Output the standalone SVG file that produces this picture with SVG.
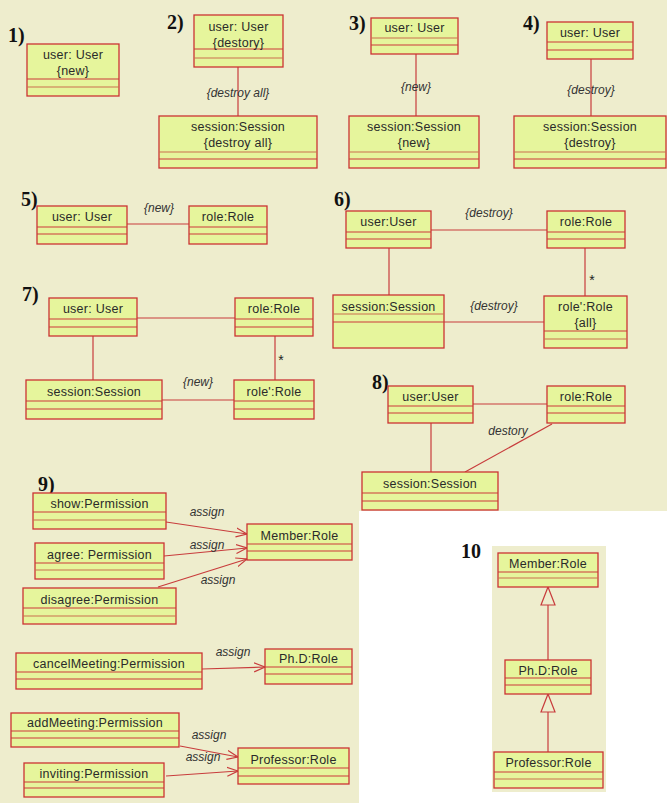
<svg xmlns="http://www.w3.org/2000/svg" width="667" height="803" viewBox="0 0 667 803">
<style>
.bg{fill:#EEEDCD}
.node rect{fill:#E6F59C;stroke:#CC3333;stroke-width:1.3}
.node line{stroke:#CC3B3B;stroke-width:1.2}
.node line.s2{stroke:#C9704E}
.node text{font-family:"Liberation Sans",Arial,sans-serif;font-size:12.5px;letter-spacing:0.25px;fill:#2a2a2a;text-anchor:middle}
.conn line,.conn path{stroke:#C83C3C;stroke-width:1.2;fill:none}
.lbl{font-family:"Liberation Sans",Arial,sans-serif;font-size:12px;font-style:italic;fill:#333;text-anchor:middle}
.mult{font-family:"Liberation Sans",Arial,sans-serif;font-size:14px;fill:#222;text-anchor:middle}
.num{font-family:"Liberation Serif","Times New Roman",serif;font-size:20px;font-weight:bold;fill:#111}
.tri{fill:#EEEDCD;stroke:#C83C3C;stroke-width:1.2}
</style>
<defs>
<marker id="open" markerUnits="userSpaceOnUse" markerWidth="14" markerHeight="12" refX="11" refY="6" orient="auto">
<path d="M0,1.5 L11,6 L0,10.5" fill="none" stroke="#C83C3C" stroke-width="1.2"/>
</marker>
</defs>

<!-- canvas -->
<rect x="0" y="0" width="667" height="803" fill="#FFFFFF"/>
<path class="bg" d="M0,0 H667 V511 H359 V803 H0 Z"/>
<rect class="bg" x="492" y="546" width="114" height="246"/>

<!-- section numbers -->
<g id="numbers">
<text class="num" x="8" y="42">1)</text>
<text class="num" x="167" y="29">2)</text>
<text class="num" x="349" y="30">3)</text>
<text class="num" x="523" y="30">4)</text>
<text class="num" x="21" y="206">5)</text>
<text class="num" x="334" y="206">6)</text>
<text class="num" x="22" y="301">7)</text>
<text class="num" x="372" y="389">8)</text>
<text class="num" x="38" y="491">9)</text>
<text class="num" x="461" y="558">10</text>
</g>

<!-- connectors -->
<g id="connectors" class="conn">
<line x1="238" y1="67" x2="238" y2="116"/>
<line x1="416" y1="54" x2="416" y2="116"/>
<line x1="591" y1="59" x2="591" y2="116"/>
<line x1="127" y1="224" x2="189" y2="224"/>
<line x1="431" y1="230" x2="547" y2="230"/>
<line x1="389" y1="248" x2="389" y2="295"/>
<line x1="585" y1="248" x2="585" y2="296"/>
<line x1="444" y1="322" x2="544" y2="322"/>
<line x1="137" y1="318" x2="235" y2="318"/>
<line x1="93" y1="336" x2="93" y2="380"/>
<line x1="275" y1="336" x2="275" y2="380"/>
<line x1="162" y1="400" x2="234" y2="400"/>
<line x1="473" y1="404" x2="547" y2="404"/>
<line x1="431" y1="423" x2="431" y2="472"/>
<line x1="465" y1="472" x2="552" y2="424"/>
<line x1="166" y1="522" x2="247" y2="534" marker-end="url(#open)"/>
<line x1="164" y1="556" x2="247" y2="548" marker-end="url(#open)"/>
<line x1="158" y1="587" x2="247" y2="559" marker-end="url(#open)"/>
<line x1="202" y1="669" x2="265" y2="667" marker-end="url(#open)"/>
<line x1="180" y1="746" x2="238" y2="757" marker-end="url(#open)"/>
<line x1="166" y1="776" x2="238" y2="771" marker-end="url(#open)"/>
<line x1="548" y1="605" x2="548" y2="660"/>
<line x1="548" y1="712" x2="548" y2="752"/>
<path class="tri" d="M548,587 L555,605 L541,605 Z"/>
<path class="tri" d="M548,694 L555,712 L541,712 Z"/>
<text class="lbl" x="238" y="97">{destroy all}</text>
<text class="lbl" x="416" y="91">{new}</text>
<text class="lbl" x="591" y="94">{destroy}</text>
<text class="lbl" x="159" y="212">{new}</text>
<text class="lbl" x="489" y="217">{destroy}</text>
<text class="mult" x="592" y="285">*</text>
<text class="lbl" x="494" y="310">{destroy}</text>
<text class="mult" x="281" y="365">*</text>
<text class="lbl" x="198" y="386">{new}</text>
<text class="lbl" x="508" y="435">destory</text>
<text class="lbl" x="207" y="516">assign</text>
<text class="lbl" x="207" y="549">assign</text>
<text class="lbl" x="218" y="584">assign</text>
<text class="lbl" x="233" y="656">assign</text>
<text class="lbl" x="209" y="739">assign</text>
<text class="lbl" x="203" y="761">assign</text>
</g>

<!-- 1) -->
<g id="n1-user" class="node"><rect x="27" y="44" width="92" height="52"/><line x1="27" y1="79" x2="119" y2="79"/><line class="s2" x1="27" y1="87" x2="119" y2="87"/><text x="73" y="59">user: User</text><text x="73" y="75">{new}</text></g>

<!-- 2) -->
<g id="n2-user" class="node"><rect x="194" y="15" width="89" height="52"/><line x1="194" y1="49" x2="283" y2="49"/><line class="s2" x1="194" y1="58" x2="283" y2="58"/><text x="238.5" y="31">user: User</text><text x="238.5" y="47">{destory}</text></g>
<g id="n2-session" class="node"><rect x="159" y="116" width="158" height="52"/><line class="s2" x1="159" y1="152" x2="317" y2="152"/><line x1="159" y1="159" x2="317" y2="159"/><text x="238" y="131">session:Session</text><text x="238" y="147">{destroy all}</text></g>

<!-- 3) -->
<g id="n3-user" class="node"><rect x="371" y="18" width="87" height="36"/><line class="s2" x1="371" y1="38" x2="458" y2="38"/><line x1="371" y1="45" x2="458" y2="45"/><text x="414.5" y="32">user: User</text></g>
<g id="n3-session" class="node"><rect x="349" y="116" width="130" height="52"/><line class="s2" x1="349" y1="152" x2="479" y2="152"/><line x1="349" y1="159" x2="479" y2="159"/><text x="414" y="131">session:Session</text><text x="414" y="147">{new}</text></g>

<!-- 4) -->
<g id="n4-user" class="node"><rect x="547" y="22" width="86" height="37"/><line x1="547" y1="42" x2="633" y2="42"/><line x1="547" y1="50" x2="633" y2="50"/><text x="590" y="37">user: User</text></g>
<g id="n4-session" class="node"><rect x="514" y="116" width="152" height="52"/><line class="s2" x1="514" y1="152" x2="666" y2="152"/><line x1="514" y1="159" x2="666" y2="159"/><text x="590" y="131">session:Session</text><text x="590" y="147">{destroy}</text></g>

<!-- 5) -->
<g id="n5-user" class="node"><rect x="37" y="206" width="90" height="38"/><line x1="37" y1="227" x2="127" y2="227"/><line x1="37" y1="234" x2="127" y2="234"/><text x="82" y="221">user: User</text></g>
<g id="n5-role" class="node"><rect x="189" y="206" width="78" height="38"/><line x1="189" y1="227" x2="267" y2="227"/><line x1="189" y1="234" x2="267" y2="234"/><text x="228" y="221">role:Role</text></g>

<!-- 6) -->
<g id="n6-user" class="node"><rect x="346" y="211" width="85" height="37"/><line x1="346" y1="232" x2="431" y2="232"/><line x1="346" y1="239" x2="431" y2="239"/><text x="388.5" y="226">user:User</text></g>
<g id="n6-role" class="node"><rect x="547" y="211" width="78" height="37"/><line x1="547" y1="232" x2="625" y2="232"/><line x1="547" y1="239" x2="625" y2="239"/><text x="586" y="226">role:Role</text></g>
<g id="n6-session" class="node"><rect x="333" y="295" width="111" height="53"/><line class="s2" x1="333" y1="314" x2="444" y2="314"/><line x1="333" y1="322" x2="444" y2="322"/><text x="388.5" y="311">session:Session</text></g>
<g id="n6-role2" class="node"><rect x="544" y="296" width="83" height="52"/><line x1="544" y1="331" x2="627" y2="331"/><line class="s2" x1="544" y1="339" x2="627" y2="339"/><text x="585.5" y="311">role':Role</text><text x="585.5" y="327">{all}</text></g>

<!-- 7) -->
<g id="n7-user" class="node"><rect x="49" y="298" width="88" height="38"/><line x1="49" y1="319" x2="137" y2="319"/><line x1="49" y1="327" x2="137" y2="327"/><text x="93" y="313">user: User</text></g>
<g id="n7-role" class="node"><rect x="235" y="298" width="78" height="38"/><line x1="235" y1="319" x2="313" y2="319"/><line x1="235" y1="327" x2="313" y2="327"/><text x="274" y="313">role:Role</text></g>
<g id="n7-session" class="node"><rect x="26" y="380" width="136" height="39"/><line x1="26" y1="401" x2="162" y2="401"/><line x1="26" y1="409" x2="162" y2="409"/><text x="94" y="396">session:Session</text></g>
<g id="n7-role2" class="node"><rect x="234" y="380" width="80" height="39"/><line x1="234" y1="401" x2="314" y2="401"/><line x1="234" y1="409" x2="314" y2="409"/><text x="274" y="396">role':Role</text></g>

<!-- 8) -->
<g id="n8-user" class="node"><rect x="388" y="386" width="85" height="37"/><line x1="388" y1="406" x2="473" y2="406"/><line x1="388" y1="413" x2="473" y2="413"/><text x="430.5" y="401">user:User</text></g>
<g id="n8-role" class="node"><rect x="547" y="386" width="78" height="37"/><line x1="547" y1="406" x2="625" y2="406"/><line x1="547" y1="413" x2="625" y2="413"/><text x="586" y="401">role:Role</text></g>
<g id="n8-session" class="node"><rect x="362" y="472" width="136" height="38"/><line x1="362" y1="493" x2="498" y2="493"/><line x1="362" y1="501" x2="498" y2="501"/><text x="430" y="488">session:Session</text></g>

<!-- 9) -->
<g id="n9-show" class="node"><rect x="33" y="493" width="133" height="36"/><line x1="33" y1="512" x2="166" y2="512"/><line class="s2" x1="33" y1="520" x2="166" y2="520"/><text x="99.5" y="508">show:Permission</text></g>
<g id="n9-agree" class="node"><rect x="35" y="543" width="129" height="36"/><line x1="35" y1="563" x2="164" y2="563"/><line class="s2" x1="35" y1="570" x2="164" y2="570"/><text x="99.5" y="559">agree: Permission</text></g>
<g id="n9-disagree" class="node"><rect x="23" y="588" width="153" height="36"/><line x1="23" y1="608" x2="176" y2="608"/><line class="s2" x1="23" y1="616" x2="176" y2="616"/><text x="99.5" y="604">disagree:Permission</text></g>
<g id="n9-member" class="node"><rect x="247" y="524" width="105" height="36"/><line x1="247" y1="544" x2="352" y2="544"/><line x1="247" y1="551" x2="352" y2="551"/><text x="299.5" y="540">Member:Role</text></g>
<g id="n9-cancel" class="node"><rect x="16" y="653" width="186" height="36"/><line x1="16" y1="672" x2="202" y2="672"/><line x1="16" y1="679" x2="202" y2="679"/><text x="109" y="668">cancelMeeting:Permission</text></g>
<g id="n9-phd" class="node"><rect x="265" y="649" width="87" height="35"/><line x1="265" y1="667" x2="352" y2="667"/><line x1="265" y1="674" x2="352" y2="674"/><text x="308.5" y="663">Ph.D:Role</text></g>
<g id="n9-add" class="node"><rect x="11" y="713" width="168" height="34"/><line x1="11" y1="731" x2="179" y2="731"/><line x1="11" y1="738" x2="179" y2="738"/><text x="95" y="727">addMeeting:Permission</text></g>
<g id="n9-inviting" class="node"><rect x="24" y="763" width="140" height="34"/><line x1="24" y1="782" x2="164" y2="782"/><line x1="24" y1="788" x2="164" y2="788"/><text x="94" y="778">inviting:Permission</text></g>
<g id="n9-professor" class="node"><rect x="238" y="748" width="111" height="36"/><line x1="238" y1="768" x2="349" y2="768"/><line x1="238" y1="776" x2="349" y2="776"/><text x="293.5" y="764">Professor:Role</text></g>

<!-- 10 -->
<g id="n10-member" class="node"><rect x="498" y="553" width="100" height="34"/><line x1="498" y1="572" x2="598" y2="572"/><line class="s2" x1="498" y1="578" x2="598" y2="578"/><text x="548" y="568">Member:Role</text></g>
<g id="n10-phd" class="node"><rect x="505" y="660" width="86" height="34"/><line x1="505" y1="678" x2="591" y2="678"/><line x1="505" y1="685" x2="591" y2="685"/><text x="548" y="675">Ph.D:Role</text></g>
<g id="n10-professor" class="node"><rect x="494" y="752" width="109" height="36"/><line x1="494" y1="772" x2="603" y2="772"/><line class="s2" x1="494" y1="779" x2="603" y2="779"/><text x="548.5" y="767">Professor:Role</text></g>
</svg>
